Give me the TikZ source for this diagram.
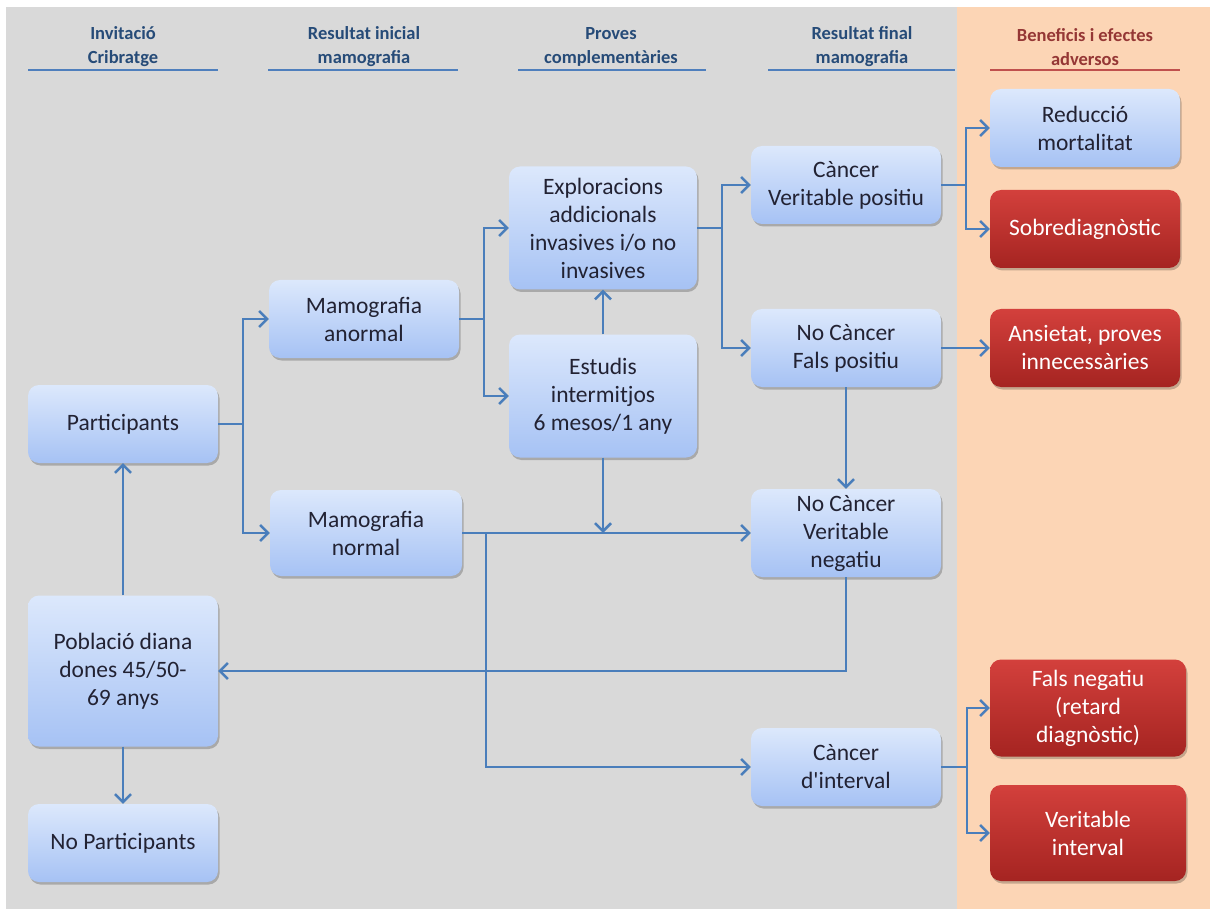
\documentclass[tikz,border=0pt]{standalone}
\usepackage{fontspec}
\setmainfont{Carlito}
\newfontfamily\plainapos{Carlito}
\usetikzlibrary{arrows.meta,shadows}
\definecolor{bggray}{HTML}{D9D9D9}
\definecolor{bgpeach}{HTML}{FCD5B5}
\definecolor{boxtop}{HTML}{DCE8FC}
\definecolor{boxbot}{HTML}{A6C2F4}
\definecolor{boxtext}{HTML}{222233}
\definecolor{redtop}{HTML}{D3403C}
\definecolor{redbot}{HTML}{A52421}
\definecolor{headblue}{HTML}{264B78}
\definecolor{headline}{HTML}{4F7FBD}
\definecolor{headred}{HTML}{953735}
\definecolor{redline}{HTML}{C0504D}
\definecolor{lineblue}{HTML}{4A7EBB}

\begin{document}
\begin{tikzpicture}[x=1pt,y=-1pt,
  box/.style={rounded corners=11pt, minimum width=190pt, minimum height=78pt,
    align=center, top color=boxtop, bottom color=boxbot, text=boxtext,
    font=\fontsize{23.5}{28}\selectfont,
    drop shadow={shadow xshift=1.5pt, shadow yshift=-2.5pt, fill=black, opacity=0.22}},
  redbox/.style={box, top color=redtop, bottom color=redbot, text=white},
  head/.style={align=center, text=headblue, font=\bfseries\fontsize{18.5}{24}\selectfont},
  headrule/.style={draw=headline, line width=2.5pt},
  conn/.style={draw=lineblue, line width=2.5pt},
  arr/.style={conn, -{Straight Barb[length=8pt,width=16pt,line width=2.5pt]}}]

% background
\useasboundingbox (0,0) rectangle (1210,909);
\fill[white] (0,0) rectangle (1210,909);
\fill[bggray] (6,7) rectangle (957,909);
\fill[bgpeach] (957,7) rectangle (1210,909);

% column titles
\node[head] (h1) at (123,47) {Invitació\\Cribratge};
\node[head] (h2) at (364,47) {Resultat inicial\\mamografia};
\node[head] (h3) at (611,47) {Proves\\complementàries};
\node[head] (h4) at (862,47) {Resultat final\\mamografia};
\node[head, text=headred] (h5) at (1085,47) {Beneficis i efectes\\adversos};
\draw[headrule] (28,70) -- (218,70);
\draw[headrule] (268,70) -- (458,70);
\draw[headrule] (518,70) -- (706,70);
\draw[headrule] (768,70) -- (955,70);
\draw[headrule, draw=redline] (990,70) -- (1180,70);

% boxes
\node[box] (part) at (123,424) {Participants};
\node[box, minimum height=151pt] (pob) at (123,671) {Població diana\\dones 45/50-\\69 anys};
\node[box] (nopart) at (123,843) {No Participants};
\node[box] (manorm) at (364,319) {Mamografia\\anormal};
\node[box, minimum width=192pt, minimum height=86pt] (mnorm) at (366,533) {Mamografia\\normal};
\node[box, minimum width=188pt, minimum height=123pt] (expl) at (603,228) {Exploracions\\addicionals\\invasives i/o no\\invasives};
\node[box, minimum width=188pt, minimum height=123pt] (estud) at (603,396) {Estudis\\intermitjos\\6 mesos/1 any};
\node[box] (vp) at (846,185) {Càncer\\Veritable positiu};
\node[box] (fp) at (846,348) {No Càncer\\Fals positiu};
\node[box, minimum height=88pt] (vn) at (846,533) {No Càncer\\Veritable\\negatiu};
\node[box] (ci) at (846,767) {Càncer\\d{\plainapos'}interval};
\node[box] (redm) at (1085,128) {Reducció\\mortalitat};
\node[redbox] (sobre) at (1085,229) {Sobrediagnòstic};
\node[redbox] (ansi) at (1085,348) {Ansietat, proves\\innecessàries};
\node[redbox, minimum width=196pt, minimum height=97pt] (fneg) at (1088,708) {Fals negatiu\\(retard\\diagnòstic)};
\node[redbox, minimum width=196pt, minimum height=96pt] (vint) at (1088,833) {Veritable\\interval};

\coordinate (j1) at (estud.south |- mnorm.east);

% connectors
\draw[arr] (part.east) -- ++(25,0) |- (manorm.west);
\draw[arr] (part.east) -- ++(25,0) |- (mnorm.west);
\draw[arr] (manorm.east) -- ++(25,0) |- (expl.west);
\draw[arr] (manorm.east) -- ++(25,0) |- (estud.west);
\draw[arr] (estud.north) -- (expl.south);
\draw[arr] (expl.east) -- ++(25,0) |- (vp.west);
\draw[arr] (expl.east) -- ++(25,0) |- (fp.west);
\draw[arr] (vp.east) -- ++(25,0) |- (redm.west);
\draw[arr] (vp.east) -- ++(25,0) |- (sobre.west);
\draw[arr] (fp.east) -- (ansi.west);
\draw[arr] (fp.south) -- (vn.north);
\draw[arr] (estud.south) -- (j1);
\draw[arr] (mnorm.east) -- (vn.west);
\draw[arr] (mnorm.east) ++(24,0) |- (ci.west);
\draw[arr] (vn.south) |- (pob.east);
\draw[arr] (pob.north) -- (part.south);
\draw[arr] (pob.south) -- (nopart.north);
\draw[arr] (ci.east) -- ++(26,0) |- (fneg.west);
\draw[arr] (ci.east) -- ++(26,0) |- (vint.west);
\end{tikzpicture}
\end{document}
